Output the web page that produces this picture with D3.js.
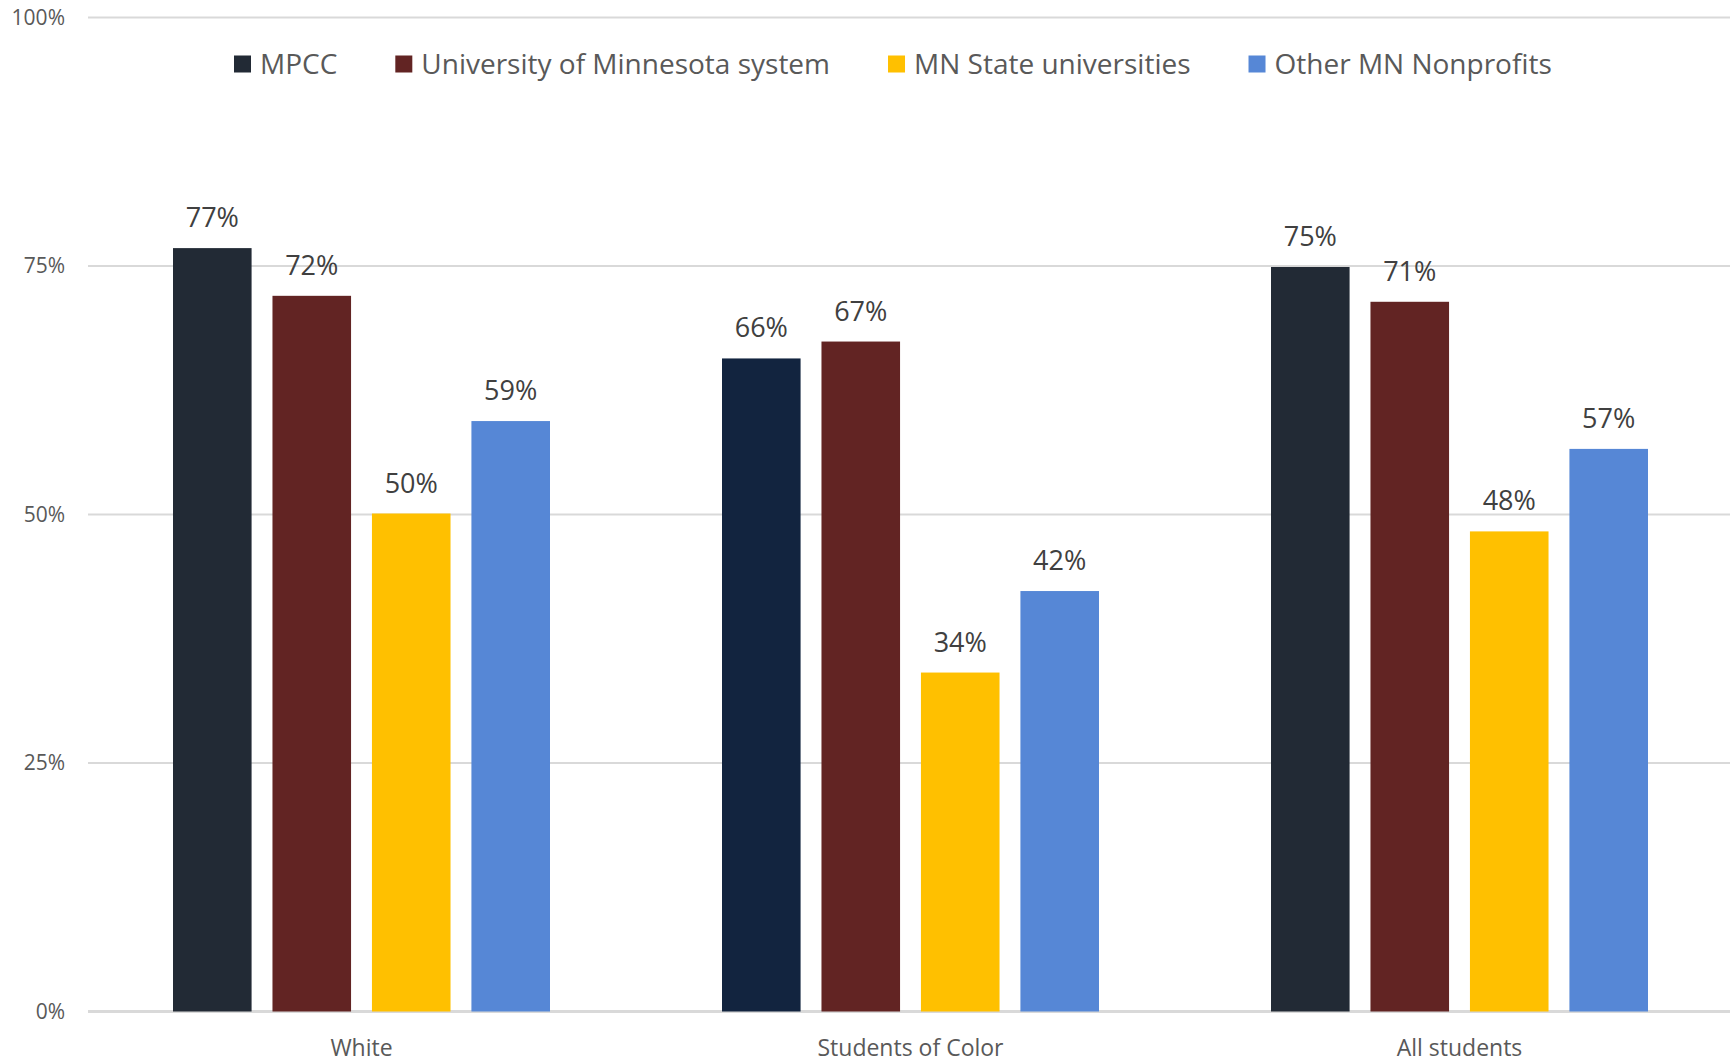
<!DOCTYPE html>
<html>
<head>
<meta charset="utf-8">
<script src="https://cdn.jsdelivr.net/npm/d3@7"></script>
<style>
  html, body { margin: 0; padding: 0; background: #fff; }
  svg { display: block; font-family: "Open Sans", "Noto Sans", sans-serif; }
</style>
</head>
<body>
<svg id="chart" width="1730" height="1061"></svg>
<script>
// ---- data ----
const categories = ["White", "Students of Color", "All students"];
const seriesNames = ["MPCC", "University of Minnesota system", "MN State universities", "Other MN Nonprofits"];
const mpcc = [76.8, 65.7, 74.9];
const umn = [72.0, 67.4, 71.4];
const mnState = [50.1, 34.1, 48.3];
const otherMN = [59.4, 42.3, 56.6];
const yTicks = [0, 25, 50, 75, 100];
const yTickLabels = ["0%", "25%", "50%", "75%", "100%"];

const seriesValues = [mpcc, umn, mnState, otherMN];
const colors = ["#222a35", "#622423", "#ffc000", "#5687d6"];
const specialColor = { series: 0, category: 1, color: "#12243f" };

// ---- layout ----
const W = 1730, H = 1061;
const gridLeft = 88, gridRight = 1730, yTop = 17.5, yBottom = 1011.5;
const bandLeft = 87, bandRight = 1734;
const svg = d3.select("#chart");

const y = d3.scaleLinear().domain([0, 100]).range([yBottom, yTop]);
const x0 = d3.scaleBand().domain(categories).range([bandLeft, bandRight]).paddingInner(0).paddingOuter(0);
const groupWidth = 377;
const x1 = d3.scaleBand().domain(d3.range(seriesNames.length)).range([0, groupWidth]).paddingInner(0.21).paddingOuter(0);

// gridlines
const grid = svg.append("g");
grid.selectAll("line").data(yTicks).join("line")
  .attr("x1", gridLeft).attr("x2", gridRight)
  .attr("y1", d => y(d)).attr("y2", d => y(d))
  .attr("stroke", "#d9d9d9")
  .attr("stroke-width", d => d === 0 ? 3 : 2);

// y axis labels
const yAxis = d3.axisLeft(y).tickValues(yTicks).tickFormat((d, i) => yTickLabels[i]).tickSize(0).tickPadding(0);
const yg = svg.append("g").attr("transform", `translate(${65},0)`).call(yAxis);
yg.select(".domain").remove();
yg.selectAll("text").attr("font-size", 21).attr("fill", "#595959").attr("font-family", "Open Sans");

// bars
const groups = svg.append("g").selectAll("g").data(categories).join("g")
  .attr("transform", d => `translate(${x0(d) + (x0.bandwidth() - groupWidth) / 2},0)`);

const barData = (cat, ci) => seriesValues.map((vals, si) => ({ si, ci, v: vals[ci] }));

groups.selectAll("rect").data((d, ci) => barData(d, ci)).join("rect")
  .attr("x", d => x1(d.si))
  .attr("width", x1.bandwidth())
  .attr("y", d => y(d.v))
  .attr("height", d => y(0) - y(d.v))
  .attr("fill", d => (d.si === specialColor.series && d.ci === specialColor.category) ? specialColor.color : colors[d.si]);

groups.selectAll("text.val").data((d, ci) => barData(d, ci)).join("text")
  .attr("class", "val")
  .attr("x", d => x1(d.si) + x1.bandwidth() / 2)
  .attr("y", d => y(d.v) - 21)
  .attr("text-anchor", "middle")
  .attr("font-size", 27)
  .attr("fill", "#404040")
  .text(d => Math.round(d.v) + "%");

// x axis labels
const xAxis = d3.axisBottom(x0).tickSize(0).tickPadding(0);
const xg = svg.append("g").attr("transform", `translate(0,${yBottom})`).call(xAxis);
xg.select(".domain").remove();
xg.selectAll("text").attr("font-size", 23).attr("fill", "#595959").attr("font-family", "Open Sans")
  .attr("dy", null).attr("y", 44);

// legend
const legend = svg.append("g").attr("transform", "translate(234,64)");
let lx = 0;
seriesNames.forEach((name, i) => {
  const g = legend.append("g").attr("transform", `translate(${lx},0)`);
  g.append("rect").attr("x", 0).attr("y", -8.5).attr("width", 17).attr("height", 17).attr("fill", colors[i]);
  const t = g.append("text").attr("x", 26).attr("y", 0).attr("dy", "0.35em")
    .attr("font-size", 28).attr("fill", "#595959").text(name);
  const w = t.node().getComputedTextLength();
  lx += 26 + w + 58;
});
</script>
</body>
</html>
